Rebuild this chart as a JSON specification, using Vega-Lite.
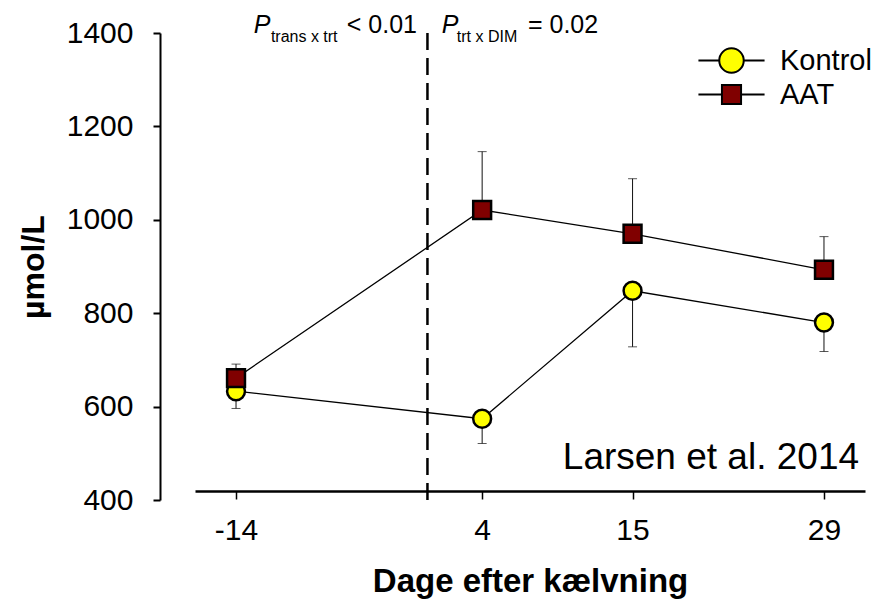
{
  "$schema": "https://vega.github.io/schema/vega-lite/v6.json",
  "width": 670,
  "height": 467,
  "autosize": "none",
  "padding": {"left": 195, "top": 33, "right": 11, "bottom": 109},
  "config": {
    "view": {"stroke": null},
    "font": "Liberation Sans",
    "axis": {"grid": false, "domainColor": "black", "tickColor": "black", "labelColor": "black", "titleColor": "black", "labelFont": "Liberation Sans", "titleFont": "Liberation Sans"},
    "legend": {"labelFont": "Liberation Sans"}
  },
  "datasets": {
    "obs": [
      {"day": -14, "group": "Kontrol", "mean": 633, "err": 596},
      {"day": 4, "group": "Kontrol", "mean": 574, "err": 521},
      {"day": 15, "group": "Kontrol", "mean": 848, "err": 728},
      {"day": 29, "group": "Kontrol", "mean": 780, "err": 718},
      {"day": -14, "group": "AAT", "mean": 661, "err": 691},
      {"day": 4, "group": "AAT", "mean": 1021, "err": 1146},
      {"day": 15, "group": "AAT", "mean": 970, "err": 1088},
      {"day": 29, "group": "AAT", "mean": 893, "err": 964}
    ],
    "calving": [{"day": 0}],
    "notes": [
      {"part": "P", "x": -12.7, "y": 1400, "t": "P"},
      {"part": "P", "x": 1.05, "y": 1400, "t": "P"},
      {"part": "sub", "x": -11.45, "y": 1400, "t": "trans x trt"},
      {"part": "sub", "x": 2.15, "y": 1400, "t": "trt x DIM"},
      {"part": "main", "x": -5.9, "y": 1400, "t": "< 0.01"},
      {"part": "main", "x": 7.35, "y": 1400, "t": "= 0.02"},
      {"part": "cite", "x": 9.9, "y": 467, "t": "Larsen et al. 2014"}
    ]
  },
  "layer": [
    {
      "data": {"name": "calving"},
      "mark": {"type": "rule", "strokeDash": [17, 8], "strokeWidth": 2.5, "color": "black"},
      "encoding": {"x": {"field": "day", "type": "quantitative"}}
    },
    {
      "data": {"name": "obs"},
      "mark": {"type": "rule", "color": "#111", "strokeWidth": 1},
      "encoding": {
        "x": {"field": "day", "type": "quantitative"},
        "y": {"field": "mean", "type": "quantitative"},
        "y2": {"field": "err"}
      }
    },
    {
      "data": {"name": "obs"},
      "mark": {"type": "tick", "orient": "horizontal", "size": 9, "thickness": 1, "color": "#111"},
      "encoding": {
        "x": {"field": "day", "type": "quantitative"},
        "y": {"field": "err", "type": "quantitative"}
      }
    },
    {
      "data": {"name": "obs"},
      "mark": {"type": "line", "color": "black", "strokeWidth": 1.3},
      "encoding": {
        "x": {"field": "day", "type": "quantitative"},
        "y": {"field": "mean", "type": "quantitative"},
        "detail": {"field": "group"}
      }
    },
    {
      "data": {"name": "obs"},
      "transform": [{"filter": "datum.group === 'Kontrol'"}],
      "mark": {"type": "point", "shape": "circle", "stroke": "black", "strokeWidth": 2.5, "opacity": 1, "size": 320},
      "encoding": {
        "x": {
          "field": "day", "type": "quantitative",
          "scale": {"domain": [-17, 32], "nice": false, "zero": false},
          "axis": {
            "values": [-14, 4, 15, 29], "offset": -9, "domainWidth": 2.5, "tickSize": 8, "tickWidth": 1.5,
            "labelExpr": "'' + datum.value",
            "labelFontSize": 30, "labelPadding": 16, "title": "Dage efter kælvning",
            "titleFontSize": 33, "titleFontWeight": "bold", "titlePadding": 20
          }
        },
        "y": {
          "field": "mean", "type": "quantitative",
          "scale": {"domain": [400, 1400], "nice": false, "zero": false},
          "axis": {
            "values": [400, 600, 800, 1000, 1200, 1400], "offset": 35, "domainWidth": 2, "tickSize": 7, "tickWidth": 2,
            "format": "d",
            "labelFontSize": 30, "labelPadding": 20, "title": "µmol/L",
            "titleFontSize": 32, "titleFontWeight": "bold", "titlePadding": 16
          }
        },
        "fill": {
          "field": "group", "type": "nominal",
          "scale": {"domain": ["Kontrol", "AAT"], "range": ["#FFFF00", "#800000"]},
          "legend": {
            "title": null, "orient": "none", "legendX": 522, "legendY": 13, "padding": 0,
            "symbolSize": 600, "symbolStrokeColor": "black", "symbolStrokeWidth": 2,
            "labelFontSize": 29, "labelOffset": 34, "rowPadding": 3, "labelColor": "black",
            "encoding": {
              "symbols": {
                "stroke": {"value": "black"},
                "strokeWidth": {"value": 2},
                "opacity": {"value": 1}
              }
            }
          }
        }
      }
    },
    {
      "data": {"name": "obs"},
      "transform": [{"filter": "datum.group === 'AAT'"}],
      "mark": {"type": "point", "shape": "square", "stroke": "black", "strokeWidth": 2.5, "opacity": 1, "size": 320},
      "encoding": {
        "x": {"field": "day", "type": "quantitative"},
        "y": {"field": "mean", "type": "quantitative"},
        "fill": {"field": "group", "type": "nominal"}
      }
    },
    {
      "data": {"name": "obs"},
      "transform": [{"filter": "false"}],
      "mark": {"type": "point", "stroke": "black", "strokeWidth": 2, "opacity": 1, "filled": true},
      "encoding": {
        "x": {"field": "day", "type": "quantitative"},
        "y": {"field": "mean", "type": "quantitative"},
        "fill": {"field": "group", "type": "nominal"},
        "shape": {
          "field": "group", "type": "nominal",
          "scale": {"domain": ["Kontrol", "AAT"], "range": ["M-2.7,0L-1,0M1,0L2.7,0M1,0A1,1,0,1,1,-1,0A1,1,0,1,1,1,0Z", "M-2.7,0L-0.78,0M0.78,0L2.7,0M-0.78,-0.78L0.78,-0.78L0.78,0.78L-0.78,0.78Z"]},
          "legend": {
            "title": null, "orient": "none", "legendX": 522, "legendY": 13, "padding": 0,
            "symbolSize": 600, "symbolStrokeColor": "black", "symbolStrokeWidth": 2,
            "labelFontSize": 29, "labelOffset": 34, "rowPadding": 3, "labelColor": "black",
            "encoding": {
              "symbols": {
                "stroke": {"value": "black"},
                "strokeWidth": {"value": 2},
                "opacity": {"value": 1}
              }
            }
          }
        }
      }
    },
    {
      "data": {"name": "notes"},
      "transform": [{"filter": "datum.part === 'P'"}],
      "mark": {"type": "text", "fontSize": 25, "fontStyle": "italic", "align": "left", "baseline": "alphabetic", "color": "black"},
      "encoding": {
        "x": {"field": "x", "type": "quantitative"},
        "y": {"field": "y", "type": "quantitative"},
        "text": {"field": "t"}
      }
    },
    {
      "data": {"name": "notes"},
      "transform": [{"filter": "datum.part === 'sub'"}],
      "mark": {"type": "text", "fontSize": 16, "align": "left", "baseline": "alphabetic", "dy": 9, "color": "black"},
      "encoding": {
        "x": {"field": "x", "type": "quantitative"},
        "y": {"field": "y", "type": "quantitative"},
        "text": {"field": "t"}
      }
    },
    {
      "data": {"name": "notes"},
      "transform": [{"filter": "datum.part === 'main'"}],
      "mark": {"type": "text", "fontSize": 25, "align": "left", "baseline": "alphabetic", "color": "black"},
      "encoding": {
        "x": {"field": "x", "type": "quantitative"},
        "y": {"field": "y", "type": "quantitative"},
        "text": {"field": "t"}
      }
    },
    {
      "data": {"name": "notes"},
      "transform": [{"filter": "datum.part === 'cite'"}],
      "mark": {"type": "text", "fontSize": 37, "align": "left", "baseline": "alphabetic", "color": "black"},
      "encoding": {
        "x": {"field": "x", "type": "quantitative"},
        "y": {"field": "y", "type": "quantitative"},
        "text": {"field": "t"}
      }
    }
  ]
}
